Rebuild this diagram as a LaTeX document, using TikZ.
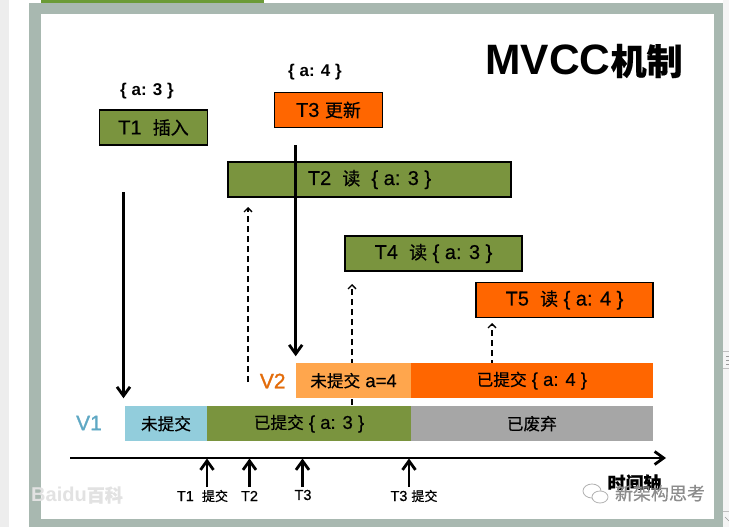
\documentclass[tikz,border=0pt]{standalone}
\usepackage{fontspec}
\setmainfont{Liberation Sans}
\newfontfamily\cjk[Scale=0.9,FakeBold=0.5]{Noto Sans CJK SC}
\newfontfamily\latmed[FakeBold=0.5]{Liberation Sans}
\newfontfamily\lathvy[FakeBold=1.2]{Liberation Sans}
\newcommand{\zh}[1]{{\cjk #1}}
\usetikzlibrary{
    arrows.meta,
    positioning
}
\definecolor{framegray}{HTML}{A8B8B0}
\definecolor{topgreen}{HTML}{6B9B37}
\definecolor{oldgreen}{HTML}{7A943E}
\definecolor{neworange}{HTML}{FF6600}
\definecolor{paleorange}{HTML}{FFA64D}
\definecolor{paleblue}{HTML}{92CDDC}
\definecolor{deadgray}{HTML}{A6A6A6}
\definecolor{vtwo}{HTML}{E36C0A}
\definecolor{vone}{HTML}{5FA8C4}
\definecolor{marksgray}{HTML}{E2E2E2}
\tikzstyle{txbox} = [
    rectangle,
    draw=black,
    line width=1.1pt,
    inner sep=0pt,
    minimum height=35pt,
    text=black,
    font=\latmed\fontsize{20}{22}\selectfont
]
\tikzstyle{verbar} = [
    rectangle,
    inner sep=0pt,
    minimum height=34.5pt,
    text=black,
    font=\latmed\fontsize{18.5}{20}\selectfont
]
\tikzstyle{ticklabel} = [
    inner sep=0pt,
    font=\latmed\fontsize{14.5}{16}\selectfont
]
\tikzstyle{datalabel} = [
    inner sep=0pt,
    font=\bfseries\fontsize{17}{19}\selectfont
]
\tikzstyle{vlabel} = [
    inner sep=0pt,
    font=\lathvy\fontsize{21}{24}\selectfont
]
\tikzstyle{arrow} = [
    -{Straight Barb[length=9pt,width=13pt]},
    line width=2.8pt,
    black
]
\tikzstyle{dasharrow} = [
    -{Straight Barb[length=4pt,width=8pt]},
    line width=1.4pt,
    dash pattern=on 6pt off 4pt,
    black
]
\begin{document}
\begin{tikzpicture}[x=1pt, y=-1pt]
        % Page behind the slide
        \useasboundingbox (0,0) rectangle (729,527);
        \fill[white] (0,0) rectangle (729,527);
        \fill[black!7] (0,0) rectangle (9,527);
        \fill[black!4] (723,0) rectangle (729,527);
        \fill[framegray] (29,3) rectangle (722.5,527);
        \fill[white] (41,14) rectangle (714,519);
        \fill[topgreen] (41,0) rectangle (264,3);

        % Scroll bar
        \draw[black!25] (723,351) -- (729,351) (723,368) -- (729,368) (723,511) -- (729,511);
        \draw[black!40, line width=1pt] (726,356) -- (729,356) (726,360) -- (729,360) (726,364) -- (729,364);
        \draw[black!40] (725,517) -- (729,521);

        % Title
        \node[inner sep=0pt, font=\bfseries\fontsize{42.5}{46}\selectfont] (title) at (584,61) {MVCC{\fontsize{40}{46}\selectfont\zh{机制}}};

        % Read dashes go behind the bars
        \coordinate (d2) at (248,382);
        \coordinate (d4) at (352,405);
        \coordinate (d5) at (492,366);
        \draw[dasharrow, shorten >=10pt] (d2) -- (d2 |- 0,197);
        \draw[dasharrow, shorten >=13pt] (d4) -- (d4 |- 0,271);
        \draw[dasharrow, shorten >=5pt] (d5) -- (d5 |- 0,318);

        % Transactions
        \node[txbox, fill=oldgreen, minimum width=108pt] (t1) at (153.5,127.5) {T1\ \ \zh{插入}};
        \node[txbox, fill=neworange, minimum width=108pt] (t3) at (328.5,110) {T3 \zh{更新}};
        \node[txbox, fill=oldgreen, minimum width=283pt] (t2) at (369.5,179.5) {T2\ \ \zh{读}\ \ \{ a: 3 \}};
        \node[txbox, fill=oldgreen, minimum width=177pt] (t4) at (433.5,253.5) {T4\ \ \zh{读} \{ a: 3 \}};
        \node[txbox, fill=neworange, minimum width=177pt] (t5) at (564.5,300) {T5\ \ \zh{读} \{ a: 4 \}};

        % Values above
        \node[datalabel] (val3) at (147,91) {\{ a: 3 \}};
        \node[datalabel] (val4) at (315,72) {\{ a: 4 \}};

        % Version bars
        \node[verbar, fill=paleblue, minimum width=82pt] (v1a) at (166,423.7) {\zh{未提交}};
        \node[verbar, fill=oldgreen, minimum width=204pt] (v1b) at (309,423.7) {\zh{已提交} \{ a: 3 \}};
        \node[verbar, fill=deadgray, minimum width=241.7pt] (v1c) at (531.85,423.7) {\zh{已废弃}};
        \node[verbar, fill=paleorange, minimum width=115pt] (v2a) at (353.5,380.7) {\zh{未提交} a=4};
        \node[verbar, fill=neworange, minimum width=241.7pt] (v2b) at (531.85,380.7) {\zh{已提交} \{ a: 4 \}\hspace{32pt}};
        \node[vlabel, text=vone] (v1) at (89,423) {V1};
        \node[vlabel, text=vtwo] (v2) at (272.7,381) {V2};

        % Time axis
        \coordinate (axisl) at (70,458);
        \coordinate (axisr) at (666,458);
        \draw[arrow] (axisl) -- (axisr);
        \node[inner sep=0pt, font=\bfseries\fontsize{20}{22}\selectfont] (axisname) at (634.5,483) {\zh{时间轴}};

        % Ticks
        \node[ticklabel] (tk1) at (202.5,496) {T1\ \ \zh{提交}};
        \node[ticklabel] (tk2) at (249.5,496) {T2};
        \node[ticklabel] (tk3) at (303,495) {T3};
        \node[ticklabel] (tk4) at (414,496) {T3 \zh{提交}};
        \coordinate (c1) at (207,487);
        \coordinate (c2) at (249.5,487);
        \coordinate (c3) at (302.5,487);
        \coordinate (c4) at (409,487);
        \draw[arrow, shorten >=0.5pt] (c1) -- (c1 |- axisl);
        \draw[arrow, shorten >=0.5pt] (c2) -- (c2 |- axisl);
        \draw[arrow, shorten >=0.5pt] (c3) -- (c3 |- axisl);
        \draw[arrow, shorten >=0.5pt] (c4) -- (c4 |- axisl);

        % Arrows
        \coordinate (s1) at (123.5,192);
        \coordinate (s3) at (295.7,145);
        \draw[arrow, shorten >=8pt] (s1) -- (s1 |- v1a.north);
        \draw[arrow, shorten >=7pt] (s3) -- (s3 |- v2a.north);

        % Watermarks
        \node[inner sep=0pt, text=marksgray, font=\bfseries\fontsize{20}{22}\selectfont] (baidu) at (77,495) {Baidu\zh{百科}};
        \node[inner sep=0pt, fill=white, text=black!45, text height=10pt, text depth=4pt, font=\fontsize{20}{22}\selectfont] (wechat) at (660,497) {\zh{新架构思考}};
        \draw[black!30, line width=0.8pt] (592,491) ellipse (9pt and 7pt);
        \draw[black!30, line width=0.8pt, fill=white] (600,497) ellipse (8pt and 6pt);
    \end{tikzpicture}
\end{document}
